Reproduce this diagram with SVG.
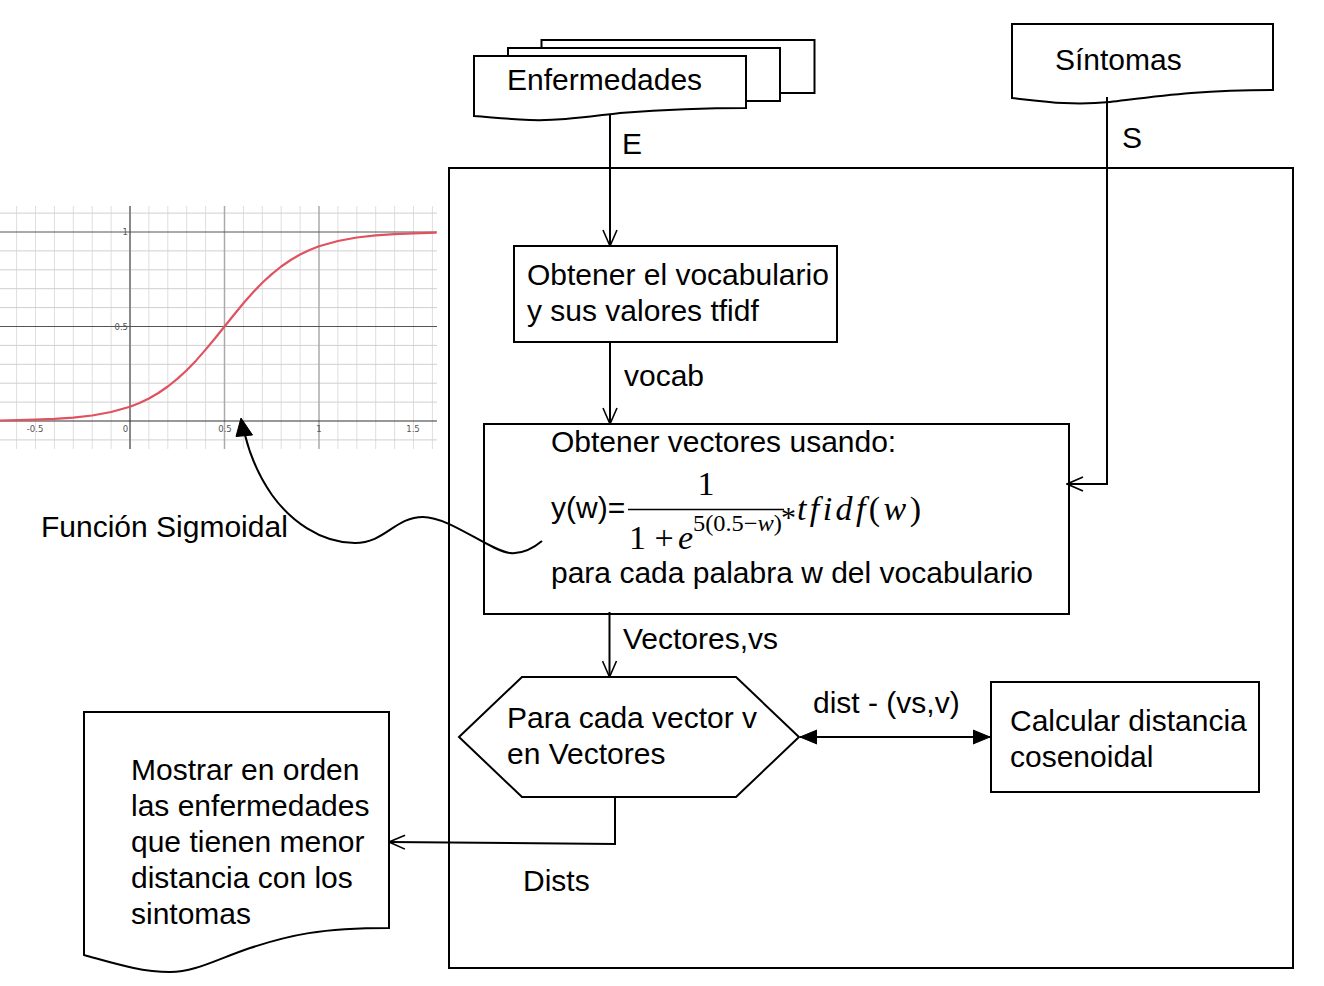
<svg xmlns="http://www.w3.org/2000/svg" width="1324" height="986" viewBox="0 0 1324 986">
<style>
.s{fill:#fff;stroke:#000;stroke-width:2}
.t{font-family:"Liberation Sans",Arial,sans-serif;font-size:30px;fill:#000}
.c{fill:none;stroke:#000;stroke-width:2}
.m{font-family:"Liberation Serif","DejaVu Serif",serif;fill:#000}
.gv{stroke:#dedede;stroke-width:1}
.gh{stroke:#cfcfcf;stroke-width:1}
.tk{font-family:"DejaVu Sans",sans-serif;font-size:8.5px;fill:#555}
</style>
<defs>
<marker id="open" viewBox="0 0 18 16" refX="17" refY="8" markerWidth="18" markerHeight="16" markerUnits="userSpaceOnUse" orient="auto">
<path d="M1,1 L17,8 L1,15" fill="none" stroke="#000" stroke-width="1.6"/>
</marker>
<marker id="block" viewBox="0 0 18 16" refX="17" refY="8" markerWidth="18" markerHeight="16" markerUnits="userSpaceOnUse" orient="auto-start-reverse">
<path d="M0,1 L17,8 L0,15 Z" fill="#000" stroke="#000" stroke-width="1"/>
</marker>
</defs>
<rect width="1324" height="986" fill="#fff"/>

<g id="chart">
<g class="gv">
<line x1="16.6" y1="206" x2="16.6" y2="449"/><line x1="35.5" y1="206" x2="35.5" y2="449"/><line x1="54.4" y1="206" x2="54.4" y2="449"/><line x1="73.3" y1="206" x2="73.3" y2="449"/><line x1="92.2" y1="206" x2="92.2" y2="449"/><line x1="111.1" y1="206" x2="111.1" y2="449"/>
<line x1="148.9" y1="206" x2="148.9" y2="449"/><line x1="167.8" y1="206" x2="167.8" y2="449"/><line x1="186.7" y1="206" x2="186.7" y2="449"/><line x1="205.6" y1="206" x2="205.6" y2="449"/>
<line x1="243.4" y1="206" x2="243.4" y2="449"/><line x1="262.3" y1="206" x2="262.3" y2="449"/><line x1="281.2" y1="206" x2="281.2" y2="449"/><line x1="300.1" y1="206" x2="300.1" y2="449"/>
<line x1="337.9" y1="206" x2="337.9" y2="449"/><line x1="356.8" y1="206" x2="356.8" y2="449"/><line x1="375.7" y1="206" x2="375.7" y2="449"/><line x1="394.6" y1="206" x2="394.6" y2="449"/><line x1="413.5" y1="206" x2="413.5" y2="449"/><line x1="432.4" y1="206" x2="432.4" y2="449"/>
</g>
<g class="gh">
<line x1="0" y1="213.1" x2="437" y2="213.1"/><line x1="0" y1="250.9" x2="437" y2="250.9"/><line x1="0" y1="269.8" x2="437" y2="269.8"/><line x1="0" y1="288.7" x2="437" y2="288.7"/><line x1="0" y1="307.6" x2="437" y2="307.6"/>
<line x1="0" y1="345.4" x2="437" y2="345.4"/><line x1="0" y1="364.3" x2="437" y2="364.3"/><line x1="0" y1="383.2" x2="437" y2="383.2"/><line x1="0" y1="402.1" x2="437" y2="402.1"/><line x1="0" y1="439.9" x2="437" y2="439.9"/>
</g>
<line x1="224.5" y1="206" x2="224.5" y2="449" stroke="#aaa" stroke-width="1.5"/>
<line x1="319" y1="206" x2="319" y2="449" stroke="#aaa" stroke-width="1.5"/>
<line x1="130" y1="206" x2="130" y2="449" stroke="#888" stroke-width="2"/>
<line x1="0" y1="232" x2="437" y2="232" stroke="#555" stroke-width="1"/>
<line x1="0" y1="326.5" x2="437" y2="326.5" stroke="#555" stroke-width="1"/>
<line x1="0" y1="421" x2="437" y2="421" stroke="#333" stroke-width="1.2"/>
<text class="tk" x="128" y="235" text-anchor="end">1</text>
<text class="tk" x="128" y="330" text-anchor="end">0.5</text>
<text class="tk" x="35" y="432" text-anchor="middle">-0.5</text>
<text class="tk" x="125.5" y="432" text-anchor="middle">0</text>
<text class="tk" x="225" y="432" text-anchor="middle">0.5</text>
<text class="tk" x="319" y="432" text-anchor="middle">1</text>
<text class="tk" x="413" y="432" text-anchor="middle">1.5</text>
<polyline fill="none" stroke="#e05260" stroke-width="2.2" stroke-linejoin="round" points="0,420.5 35.5,419.7 54.4,418.9 73.3,417.6 92.2,415.5 111.1,412.0 130,406.7 139.5,403.0 148.9,398.5 158.4,393.0 167.8,386.5 177.3,378.9 186.7,370.2 196.2,360.4 205.6,349.6 215.1,338.3 224.5,326.5 234,314.7 243.4,303.3 252.9,292.6 262.3,282.8 271.8,274.1 281.2,266.5 290.7,260 300.1,254.5 309.6,250 319,246.3 337.9,241 356.8,237.5 375.7,235.4 394.6,234.1 413.5,233.3 436.5,232.7"/>
</g>

<g id="container">
<rect class="s" x="449" y="168" width="844" height="800" fill="none"/>
</g>

<g id="enfermedades">
<rect class="s" x="541.5" y="40" width="273" height="53"/>
<rect class="s" x="508" y="48" width="272" height="53"/>
<path class="s" d="M474,56 H746 V108 C700,108 660,110 620,113 C585,117 560,121 530,120 C505,119 490,117 474,116 Z"/>
<text class="t" x="507" y="90">Enfermedades</text>
</g>

<g id="sintomas">
<path class="s" d="M1012,24 H1273 V90 C1200,90 1160,96 1110,102 C1070,106 1040,101 1012,98 Z"/>
<text class="t" x="1055" y="70">Síntomas</text>
</g>

<g id="vocabulario">
<rect class="s" x="514" y="246" width="323" height="96"/>
<text class="t" x="527" y="285">Obtener el vocabulario</text>
<text class="t" x="527" y="321">y sus valores tfidf</text>
</g>

<g id="vectores">
<rect class="s" x="484" y="424" width="585" height="190"/>
<text class="t" x="551" y="452">Obtener vectores usando:</text>
<text class="t" x="551" y="518">y(w)=</text>
<text class="m" x="706" y="495" font-size="34" text-anchor="middle">1</text>
<line x1="628" y1="509.5" x2="784" y2="509.5" stroke="#000" stroke-width="1.5"/>
<text class="m" x="637.5" y="549" font-size="34" text-anchor="middle">1</text>
<text class="m" x="664" y="549" font-size="34" text-anchor="middle">+</text>
<text class="m" x="678" y="549" font-size="34" font-style="italic">e</text>
<text class="m" x="693" y="531" font-size="23" textLength="89" lengthAdjust="spacingAndGlyphs">5(0.5−<tspan font-style="italic">w</tspan>)</text>
<text class="m" x="781" y="527" font-size="30">*</text>
<text class="m" x="797" y="520" font-size="34" textLength="124" lengthAdjust="spacing"><tspan font-style="italic">tfidf</tspan>(<tspan font-style="italic">w</tspan>)</text>
<text class="t" x="551" y="583">para cada palabra w del vocabulario</text>
</g>

<g id="paracada">
<polygon class="s" points="459,737 522,677 736,677 799,737 736,797 522,797"/>
<text class="t" x="507" y="728">Para cada vector v</text>
<text class="t" x="507" y="764">en Vectores</text>
</g>

<g id="calcular">
<rect class="s" x="991" y="682" width="268" height="110"/>
<text class="t" x="1010" y="731">Calcular distancia</text>
<text class="t" x="1010" y="767">cosenoidal</text>
</g>

<g id="mostrar">
<path class="s" d="M84,712 H389 V928 C320,928 290,935 250,948 C215,960 195,972 170,972 C140,972 110,962 84,955 Z"/>
<text class="t" x="131" y="780">Mostrar en orden</text>
<text class="t" x="131" y="816">las enfermedades</text>
<text class="t" x="131" y="852">que tienen menor</text>
<text class="t" x="131" y="888">distancia con los</text>
<text class="t" x="131" y="924">sintomas</text>
</g>

<g id="sigmoide-label">
<text class="t" x="41" y="537">Función Sigmoidal</text>
</g>

<g id="connectors">
<path class="c" d="M610,114 V246" marker-end="url(#open)"/>
<path class="c" d="M1107,97 V484 H1067" marker-end="url(#open)"/>
<path class="c" d="M610,342 V424" marker-end="url(#open)"/>
<path class="c" d="M609.5,612 V677" marker-end="url(#open)"/>
<path class="c" d="M800,737 H990" marker-start="url(#block)" marker-end="url(#block)"/>
<path class="c" d="M615,797 V844 L389,842" marker-end="url(#open)"/>
<path class="c" d="M542,541 C530,551 520,554 510,553 C490,551 450,517 423,517 C395,517 385,543 355,543 C320,543 290,520 272,495 C258,475 250,455 245,435"/>
<polygon points="241,418 252.5,435 236,436.5" fill="#000" stroke="#000" stroke-width="1"/>
<text class="t" x="622" y="154">E</text>
<text class="t" x="1122" y="148">S</text>
<text class="t" x="624" y="386">vocab</text>
<text class="t" x="623" y="649">Vectores,vs</text>
<text class="t" x="813" y="713">dist - (vs,v)</text>
<text class="t" x="523" y="891">Dists</text>
</g>
</svg>
